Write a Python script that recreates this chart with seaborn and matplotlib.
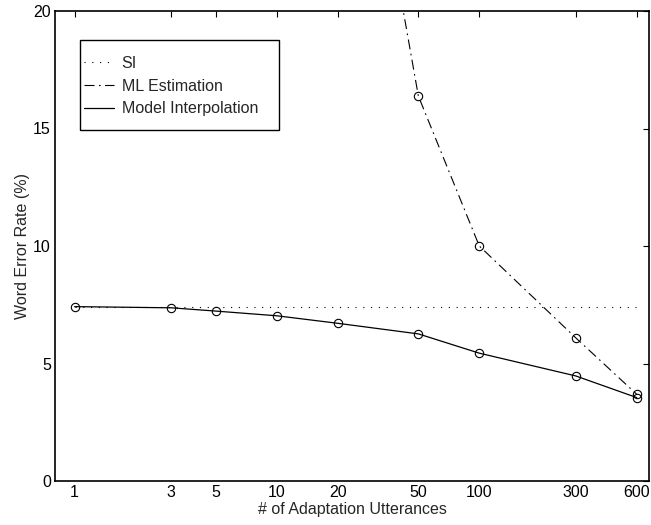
import matplotlib
matplotlib.use("Agg")
import matplotlib.pyplot as plt
import seaborn as sns
from matplotlib.ticker import FixedLocator, FixedFormatter, NullLocator
from matplotlib.patches import Rectangle

sns.set_theme(style="white")
plt.rcParams['font.family'] = ['Liberation Sans', 'DejaVu Sans']

x_ticks = [1, 3, 5, 10, 20, 50, 100, 300, 600]
si_x = [1, 600]
si_y = [7.42, 7.42]
ml_x = [20, 50, 100, 300, 600]
ml_y = [35.7, 16.38, 10.0, 6.09, 3.69]
mi_x = [1, 3, 5, 10, 20, 50, 100, 300, 600]
mi_y = [7.42, 7.37, 7.23, 7.03, 6.71, 6.26, 5.44, 4.47, 3.55]

W, H = 651, 525
FS = 11.5
fig = plt.figure(figsize=(W/100, H/100), dpi=100)
ax = fig.add_axes([55/W, 1-481/H, (649-55)/W, (481-11)/H])

sns.lineplot(x=si_x, y=si_y, ax=ax, color='black', linewidth=0.8,
             linestyle=(0, (1, 6)), label='SI')
sns.lineplot(x=ml_x, y=ml_y, ax=ax, color='black', linewidth=0.8,
             linestyle=(0, (9, 4, 1.5, 4)), marker='o', markersize=6,
             markerfacecolor='none', markeredgecolor='black', markeredgewidth=0.8,
             label='ML Estimation')
sns.lineplot(x=mi_x, y=mi_y, ax=ax, color='black', linewidth=0.9,
             linestyle='-', marker='o', markersize=6,
             markerfacecolor='none', markeredgecolor='black', markeredgewidth=0.8,
             label='Model Interpolation')

ax.set_xscale('log')
ax.set_xlim(0.8, 690)
ax.set_ylim(0, 20)
ax.xaxis.set_major_locator(FixedLocator(x_ticks))
ax.xaxis.set_major_formatter(FixedFormatter([str(t) for t in x_ticks]))
ax.xaxis.set_minor_locator(NullLocator())
ax.set_yticks([0, 5, 10, 15, 20])
ax.set_yticklabels(['0', '5', '10', '15', '20'])
ax.tick_params(axis='both', which='major', direction='in', length=4, width=0.8,
               top=True, right=True, labelsize=FS, colors='black', pad=3)
for s in ax.spines.values():
    s.set_color('black')
    s.set_linewidth(1.2)
ax.set_xlabel('# of Adaptation Utterances', fontsize=FS, labelpad=1)
ax.set_ylabel('Word Error Rate (%)', fontsize=FS, labelpad=2)

leg = ax.legend(loc='upper left', bbox_to_anchor=(84/W, 1-56/H),
                bbox_transform=fig.transFigure,
                frameon=False, fontsize=FS,
                handlelength=1.9, borderpad=0, labelspacing=0.48, handletextpad=0.45,
                borderaxespad=0)
for h in leg.legend_handles:
    h.set_marker('')

rect = Rectangle((80/W, 1-130/H), (279-80)/W, (130-40)/H, transform=fig.transFigure,
                 fill=False, edgecolor='black', linewidth=1.0, zorder=5)
fig.patches.append(rect)

fig.savefig('out.png', dpi=100)
